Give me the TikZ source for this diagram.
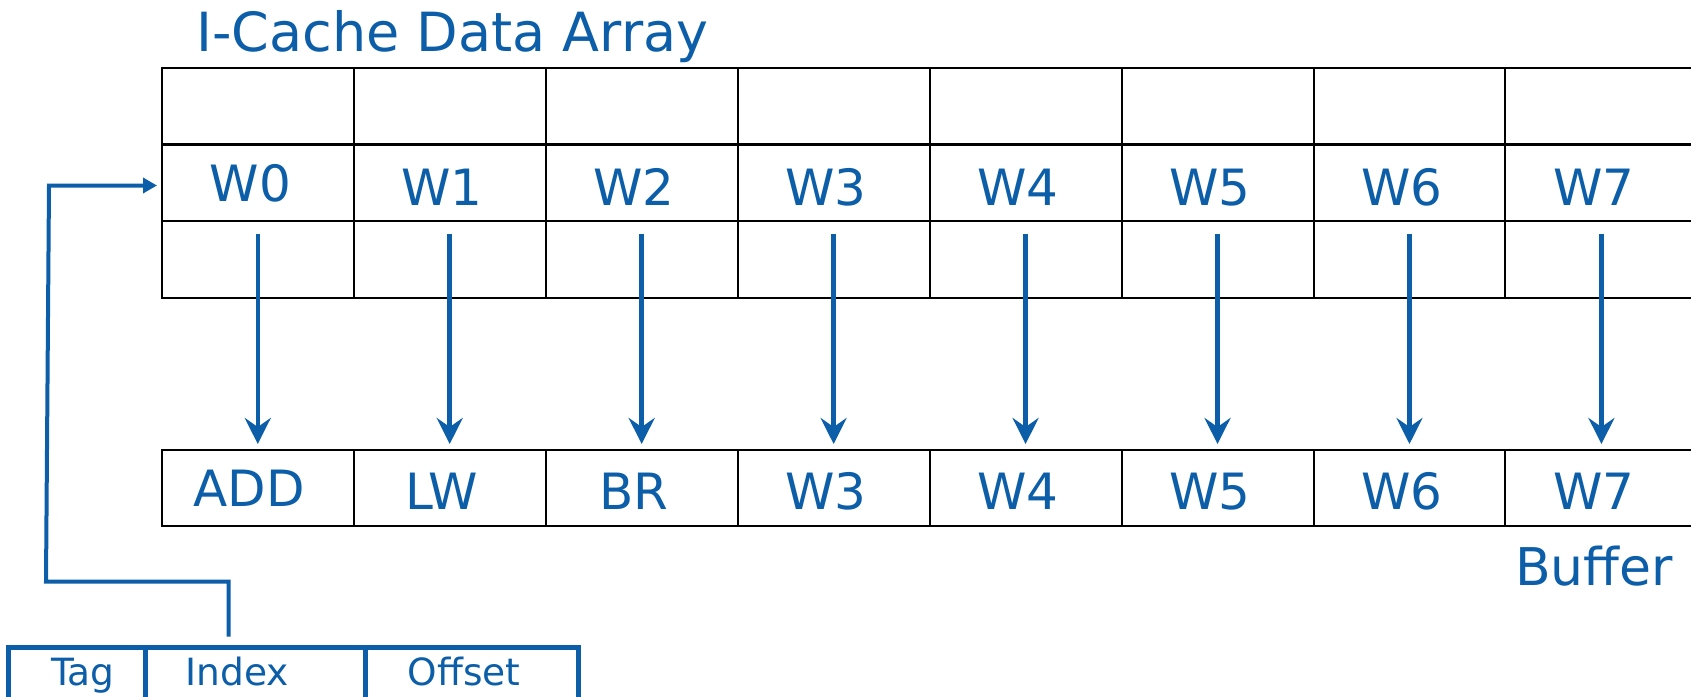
\documentclass[tikz,border=0pt]{standalone}
\usepackage{fontspec}
\setmainfont{DejaVu Sans}
\usetikzlibrary{arrows.meta}
\definecolor{ink}{RGB}{12,94,168}

\begin{document}
\begin{tikzpicture}[x=1bp,y=-1bp,
  cell/.style={draw=black, line width=2bp, minimum width=191.95bp,
    minimum height=76.5bp, inner sep=0, outer sep=0, anchor=north west},
  bufcell/.style={cell, minimum height=76bp},
  field/.style={draw=ink, line width=5bp, minimum height=52bp,
    inner sep=0, outer sep=0, anchor=north west},
  word/.style={text=ink, font=\fontsize{50bp}{60bp}\selectfont,
    anchor=base, inner sep=0},
  caption/.style={text=ink, anchor=base west, inner sep=0},
  fieldtext/.style={text=ink, font=\fontsize{37.5bp}{45bp}\selectfont,
    anchor=base, inner sep=0},
  move/.style={draw=ink, line width=4.5bp,
    -{Stealth[length=26bp,width=26bp,inset=9bp]}},
  feed/.style={draw=ink, line width=4bp, line join=miter,
    -{Triangle[length=14bp,width=15bp]}},
]
\useasboundingbox (0,0) rectangle (1691,697);

% title of the data array
\node[caption, font=\fontsize{54bp}{64bp}\selectfont] (title) at (196,51.7) {I-Cache Data Array};

% data array: three rows of eight words
\foreach \r in {0,1,2}{
  \foreach \c in {0,...,7}{
    \node[cell] (d-\r-\c) at (161.8+\c*191.95, 68+\r*76.5) {};
  }
}
% fetch buffer
\foreach \c in {0,...,7}{
  \node[bufcell] (b-\c) at (161.8+\c*191.95, 449.5) {};
}

% words held in the indexed line
\node[word] (w-0) at (250.2,201) {W0};
\foreach \c in {1,...,7}{
  \node[word] (w-\c) at (250.2+\c*191.95,205.5) {W\c};
}

% contents of the buffer
\node[word] (i-0) at (249,506) {ADD};
\node[word] (i-1) at (442,509.3) {LW};
\node[word] (i-2) at (634,509.3) {BR};
\foreach \c in {3,...,7}{
  \node[word] (i-\c) at (250.2+\c*191.95,509.3) {W\c};
}

% each word is copied down into the buffer
\foreach \c in {0,...,7}{
  \draw[move] ([yshift=-13.3bp]d-2-\c.north) -- ([yshift=5.5bp]b-\c.north);
}

\node[caption, font=\fontsize{52bp}{62bp}\selectfont] (buflabel) at (1515,585) {Buffer};

% address fields
\node[field, minimum width=137bp] (f-tag) at (8.4,647) {};
\node[field, minimum width=220.1bp] (f-index) at (145.4,647) {};
\node[field, minimum width=213.1bp] (f-offset) at (365.5,647) {};
\node[fieldtext] (t-tag) at (83,685.5) {Tag};
\node[fieldtext] (t-index) at (237,685.5) {Index};
\node[fieldtext] (t-offset) at (464,685.5) {Offset};

% index selects the line
\coordinate (tap) at (228.5,636.7);
\coordinate (bendA) at (228.5,581.7);
\coordinate (bendB) at (46,581.7);
\coordinate (bendC) at (49,185.5);
\draw[feed, shorten >=4.8bp] (tap) -- (bendA) -- (bendB) -- (bendC) -- (bendC -| d-1-0.west);
\end{tikzpicture}
\end{document}
